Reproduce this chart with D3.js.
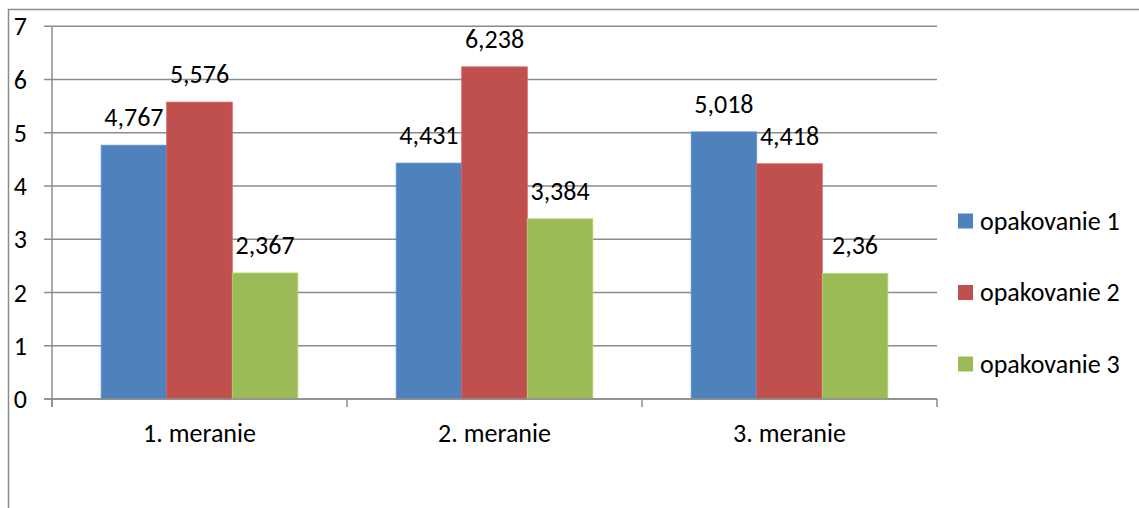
<!DOCTYPE html>
<html>
<head>
<meta charset="utf-8">
<script src="https://cdn.jsdelivr.net/npm/d3@7"></script>
<style>
  html, body { margin: 0; padding: 0; background: #fff; }
  svg { display: block; }
  text { font-family: Carlito, Lato, "Open Sans", sans-serif; fill: #000; }
</style>
</head>
<body>
<svg id="chart" width="1139" height="508"></svg>
<script>
// Measurement categories and the three repetitions
const categories = ["1. meranie", "2. meranie", "3. meranie"];
const seriesNames = ["opakovanie 1", "opakovanie 2", "opakovanie 3"];
const opakovanie1 = [4.767, 4.431, 5.018];
const opakovanie2 = [5.576, 6.238, 4.418];
const opakovanie3 = [2.367, 3.384, 2.36];
const yTicks = [0, 1, 2, 3, 4, 5, 6, 7];
const colors = ["#4F81BD", "#C0504D", "#9BBB59"];

const seriesValues = [opakovanie1, opakovanie2, opakovanie3];
const rows = categories.map((c, i) => ({
  category: c,
  values: seriesNames.map((s, j) => ({ series: s, index: j, value: seriesValues[j][i] }))
}));

const svg = d3.select("#chart");
const plot = { left: 52, right: 937, top: 26.3, bottom: 399 };
const fontSize = 26;
const fmt = v => String(v).replace(".", ",");

// Outer chart frame (right and bottom edges fall outside the view)
svg.append("rect")
  .attr("x", 8.5).attr("y", 9.5)
  .attr("width", 1200).attr("height", 600)
  .attr("fill", "none").attr("stroke", "#8c8c8c").attr("stroke-width", 1.5);

const x0 = d3.scaleBand().domain(categories).range([plot.left, plot.right]).paddingInner(0).paddingOuter(0);
// bars take 2/3 of each category, the rest is split evenly on both sides
const x1 = d3.scaleBand().domain(seriesNames)
  .range([x0.bandwidth() / 6, x0.bandwidth() * 5 / 6]);
const y = d3.scaleLinear().domain([0, 7]).range([plot.bottom, plot.top]);

// Horizontal gridlines with short ticks left of the axis
svg.append("g")
  .selectAll("line")
  .data(yTicks)
  .join("line")
  .attr("x1", plot.left - 8).attr("x2", plot.right)
  .attr("y1", d => y(d)).attr("y2", d => y(d))
  .attr("stroke", "#8c8c8c").attr("stroke-width", 1.5);

// Y axis labels
svg.append("g")
  .selectAll("text")
  .data(yTicks)
  .join("text")
  .attr("x", 27).attr("y", d => y(d))
  .attr("dy", "0.35em")
  .attr("text-anchor", "end")
  .attr("font-size", fontSize)
  .text(d => d);

// Bars
const groups = svg.append("g")
  .selectAll("g")
  .data(rows)
  .join("g")
  .attr("transform", d => `translate(${x0(d.category)},0)`);

groups.selectAll("rect")
  .data(d => d.values)
  .join("rect")
  .attr("x", d => x1(d.series))
  .attr("y", d => y(d.value))
  .attr("width", x1.bandwidth())
  .attr("height", d => y(0) - y(d.value))
  .attr("fill", d => colors[d.index])
  .attr("stroke", d => d3.color(colors[d.index]).brighter(0.4))
  .attr("stroke-width", 0.8);

// Value labels above bars
groups.selectAll("text")
  .data(d => d.values)
  .join("text")
  .attr("x", d => x1(d.series) + x1.bandwidth() / 2)
  .attr("y", d => y(d.value) - 19)
  .attr("text-anchor", "middle")
  .attr("font-size", fontSize)
  .text(d => fmt(d.value));

// Y axis line
svg.append("line")
  .attr("x1", plot.left).attr("x2", plot.left)
  .attr("y1", plot.top).attr("y2", plot.bottom + 8)
  .attr("stroke", "#8c8c8c").attr("stroke-width", 1.5);

// X axis line and category separators
svg.append("line")
  .attr("x1", plot.left - 8).attr("x2", plot.right)
  .attr("y1", plot.bottom).attr("y2", plot.bottom)
  .attr("stroke", "#8c8c8c").attr("stroke-width", 1.5);

const sepPositions = categories.map(c => x0(c)).concat([plot.right]);
svg.append("g")
  .selectAll("line")
  .data(sepPositions)
  .join("line")
  .attr("x1", d => d).attr("x2", d => d)
  .attr("y1", plot.bottom).attr("y2", plot.bottom + 8)
  .attr("stroke", "#8c8c8c").attr("stroke-width", 1.5);

// Category labels
svg.append("g")
  .selectAll("text")
  .data(categories)
  .join("text")
  .attr("x", d => x0(d) + x0.bandwidth() / 2)
  .attr("y", 442)
  .attr("text-anchor", "middle")
  .attr("font-size", fontSize)
  .text(d => d);

// Legend
const legend = svg.append("g")
  .selectAll("g")
  .data(seriesNames)
  .join("g")
  .attr("transform", (d, i) => `translate(958,${221 + i * 71.5})`);

legend.append("rect")
  .attr("x", 0).attr("y", -7.5)
  .attr("width", 15).attr("height", 15)
  .attr("fill", (d, i) => colors[i]);

legend.append("text")
  .attr("x", 22).attr("y", 8.5)
  .attr("font-size", fontSize)
  .text(d => d);
</script>
</body>
</html>
